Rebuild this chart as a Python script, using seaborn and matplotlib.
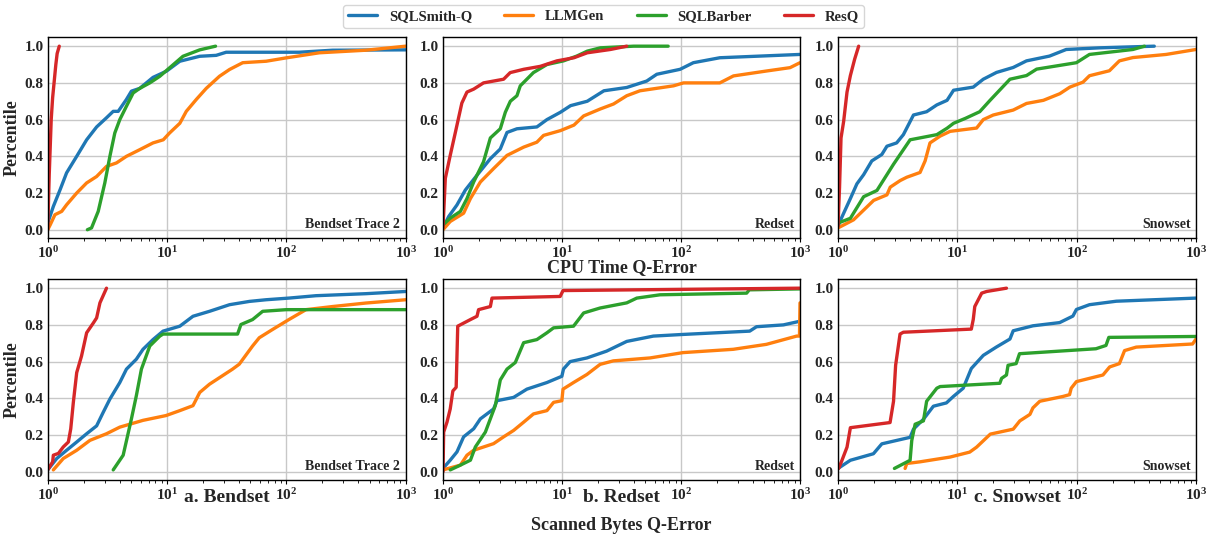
import numpy as np
import pandas as pd
import seaborn as sns
import matplotlib.pyplot as plt

methods = ['SQLSmith-Q', 'LLMGen', 'SQLBarber', 'ResQ']
datasets = ['Bendset Trace 2', 'Redset', 'Snowset']
panel_titles = ['a. Bendset', 'b. Redset', 'c. Snowset']

# ---- CPU time q-error, Bendset Trace 2 ----
cpu_bend_smith_x = [1, 1.115, 1.27, 1.44, 1.75, 2.12, 2.57, 3.11, 3.54, 3.9, 4.57, 5.03, 5.9, 7.63, 9.9, 12.8, 18.8, 25.8, 31.3, 128, 244, 1000]
cpu_bend_smith_y = [0.036, 0.127, 0.218, 0.31, 0.4, 0.49, 0.56, 0.61, 0.645, 0.645, 0.71, 0.755, 0.77, 0.83, 0.864, 0.918, 0.945, 0.95, 0.967, 0.967, 0.978, 0.98]
cpu_bend_llm_x = [1, 1.05, 1.15, 1.31, 1.44, 1.75, 2.12, 2.57, 3.11, 3.77, 4.57, 5.9, 7.63, 9.3, 10.5, 12.8, 14.5, 17.6, 21.3, 27.5, 33.4, 43.1, 67.7, 99, 189, 464, 1000]
cpu_bend_llm_y = [0, 0.027, 0.082, 0.1, 0.136, 0.2, 0.255, 0.29, 0.345, 0.364, 0.4, 0.436, 0.473, 0.49, 0.527, 0.58, 0.645, 0.71, 0.77, 0.836, 0.873, 0.91, 0.918, 0.936, 0.964, 0.978, 1.0]
cpu_bend_barber_x = [2.15, 2.33, 2.65, 3.01, 3.32, 3.65, 4.02, 4.57, 5.2, 5.9, 7.17, 8.7, 10.5, 13.6, 18.8, 25.5]
cpu_bend_barber_y = [0, 0.01, 0.1, 0.255, 0.4, 0.527, 0.6, 0.673, 0.745, 0.77, 0.8, 0.836, 0.882, 0.945, 0.98, 1.0]
cpu_bend_resq_x = [1.0, 1.03, 1.07, 1.1, 1.17, 1.2, 1.25]
cpu_bend_resq_y = [0, 0.3, 0.6, 0.72, 0.9, 0.96, 1.0]

# ---- CPU time q-error, Redset ----
cpu_red_smith_x = [1, 1.116, 1.31, 1.54, 1.93, 2.5, 3.03, 3.45, 4.18, 6.15, 7.47, 9.7, 11.8, 16.3, 22.5, 35, 51.5, 62.6, 98.3, 127, 212, 1000]
cpu_red_smith_y = [0.01, 0.072, 0.135, 0.216, 0.297, 0.387, 0.44, 0.53, 0.55, 0.56, 0.6, 0.64, 0.676, 0.7, 0.757, 0.775, 0.81, 0.847, 0.874, 0.91, 0.937, 0.955]
cpu_red_llm_x = [1, 1.15, 1.49, 1.7, 2.06, 2.66, 3.45, 4.76, 6.15, 7.0, 9.7, 12.6, 15.2, 21, 27.1, 35, 45.2, 86.6, 105, 212, 276, 526, 825, 1000]
cpu_red_llm_y = [0.0, 0.045, 0.09, 0.17, 0.26, 0.333, 0.405, 0.45, 0.477, 0.514, 0.54, 0.57, 0.62, 0.658, 0.685, 0.73, 0.757, 0.784, 0.8, 0.8, 0.838, 0.865, 0.883, 0.91]
cpu_red_barber_x = [1, 1.15, 1.4, 1.59, 1.81, 2.19, 2.5, 3.03, 3.34, 3.68, 4.18, 4.46, 5.75, 7.47, 10.3, 13.3, 16.3, 21, 40, 78]
cpu_red_barber_y = [0.027, 0.063, 0.1, 0.17, 0.26, 0.37, 0.5, 0.55, 0.64, 0.7, 0.73, 0.784, 0.856, 0.9, 0.92, 0.946, 0.973, 0.991, 1.0, 1.0]
cpu_red_resq_x = [1, 1.046, 1.15, 1.27, 1.44, 1.59, 1.81, 2.19, 3.23, 3.67, 4.76, 6.56, 9.06, 12.6, 16.3, 25.5, 35]
cpu_red_resq_y = [0.01, 0.28, 0.405, 0.53, 0.69, 0.75, 0.766, 0.8, 0.82, 0.856, 0.874, 0.89, 0.92, 0.937, 0.964, 0.982, 1.0]

# ---- CPU time q-error, Snowset ----
cpu_snow_smith_x = [1, 1.08, 1.27, 1.44, 1.64, 1.92, 2.33, 2.57, 3.1, 3.53, 4.29, 5.53, 6.73, 8.2, 9.3, 13.6, 16.5, 21.3, 29.4, 38, 59.2, 81.7, 156, 447]
cpu_snow_smith_y = [0.018, 0.07, 0.17, 0.25, 0.3, 0.375, 0.41, 0.455, 0.473, 0.518, 0.625, 0.643, 0.68, 0.705, 0.76, 0.777, 0.82, 0.857, 0.884, 0.92, 0.946, 0.982, 0.991, 1.0]
cpu_snow_llm_x = [1, 1.35, 1.64, 1.99, 2.57, 2.74, 3.32, 3.77, 4.87, 5.37, 5.9, 7.17, 8.7, 14.5, 16.5, 20, 29.4, 38, 52.6, 72.2, 87.7, 113, 128, 188, 228, 296, 562, 1000]
cpu_snow_llm_y = [0.01, 0.054, 0.107, 0.16, 0.19, 0.232, 0.268, 0.286, 0.312, 0.375, 0.473, 0.51, 0.536, 0.554, 0.6, 0.625, 0.652, 0.688, 0.705, 0.741, 0.777, 0.804, 0.839, 0.866, 0.92, 0.938, 0.955, 0.982]
cpu_snow_barber_x = [1, 1.27, 1.64, 2.12, 2.57, 2.92, 4.02, 6.73, 8.2, 9.3, 11.7, 15.4, 18.8, 27.6, 38, 46.2, 99.5, 128, 296, 370]
cpu_snow_barber_y = [0.036, 0.0625, 0.18, 0.214, 0.3, 0.357, 0.49, 0.518, 0.553, 0.58, 0.607, 0.643, 0.705, 0.82, 0.84, 0.875, 0.91, 0.955, 0.982, 1.0]
cpu_snow_resq_x = [1, 1.03, 1.06, 1.115, 1.19, 1.27, 1.38, 1.49]
cpu_snow_resq_y = [0.018, 0.23, 0.5, 0.59, 0.75, 0.84, 0.93, 1.0]

# ---- Scanned bytes q-error, Bendset Trace 2 ----
scan_bend_smith_x = [1, 1.19, 1.44, 1.75, 2.12, 2.57, 2.92, 3.32, 4.02, 4.57, 5.53, 6.29, 7.63, 9.26, 12.8, 16.5, 22.7, 33.4, 49.1, 67.6, 105, 177, 463, 1000]
scan_bend_smith_y = [0.01, 0.072, 0.117, 0.162, 0.207, 0.25, 0.324, 0.396, 0.486, 0.559, 0.613, 0.667, 0.72, 0.766, 0.793, 0.847, 0.874, 0.91, 0.928, 0.937, 0.946, 0.959, 0.97, 0.982]
scan_bend_llm_x = [1.115, 1.35, 1.75, 2.26, 3.11, 4.02, 6.29, 9.8, 12.8, 16.5, 18.8, 22.7, 35.4, 40.3, 52.1, 59.3, 76.6, 105, 146, 244, 463, 1000]
scan_bend_llm_y = [0.01, 0.072, 0.117, 0.171, 0.207, 0.243, 0.28, 0.306, 0.333, 0.36, 0.432, 0.477, 0.559, 0.586, 0.685, 0.73, 0.775, 0.829, 0.883, 0.9, 0.919, 0.937]
scan_bend_barber_x = [3.54, 4.29, 5.03, 5.53, 6.1, 7.17, 8.7, 9.26, 11.2, 39, 41.6, 52.1, 63.3, 100, 1000]
scan_bend_barber_y = [0.01, 0.09, 0.288, 0.414, 0.559, 0.685, 0.739, 0.75, 0.75, 0.75, 0.802, 0.829, 0.874, 0.883, 0.883]
scan_bend_resq_x = [1, 1.1, 1.115, 1.23, 1.35, 1.49, 1.56, 1.64, 1.75, 1.92, 2.12, 2.41, 2.57, 2.74, 3.11]
scan_bend_resq_y = [0.01, 0.054, 0.09, 0.1, 0.135, 0.162, 0.234, 0.378, 0.54, 0.63, 0.757, 0.81, 0.838, 0.92, 1.0]

# ---- Scanned bytes q-error, Redset ----
scan_red_smith_x = [1, 1.15, 1.31, 1.49, 1.81, 2.06, 2.66, 2.84, 3.92, 5.07, 7.47, 9.97, 10.3, 11.7, 16.2, 23.7, 35, 58.6, 104, 378, 431, 725, 1000]
scan_red_smith_y = [0.018, 0.063, 0.108, 0.19, 0.234, 0.288, 0.342, 0.387, 0.405, 0.45, 0.486, 0.52, 0.56, 0.6, 0.62, 0.657, 0.71, 0.739, 0.748, 0.766, 0.79, 0.8, 0.82]
scan_red_llm_x = [1, 1.4, 1.59, 1.81, 2.66, 3.23, 3.92, 4.76, 5.76, 7.47, 8.5, 9.97, 10.2, 12.5, 16.2, 20.9, 27, 55, 104, 275, 522, 937, 990, 1000]
scan_red_llm_y = [0.01, 0.036, 0.09, 0.117, 0.153, 0.19, 0.225, 0.27, 0.315, 0.333, 0.378, 0.387, 0.45, 0.486, 0.53, 0.585, 0.604, 0.62, 0.649, 0.667, 0.694, 0.739, 0.739, 0.92]
scan_red_barber_x = [1.15, 1.4, 1.7, 1.87, 2.27, 2.75, 3.03, 3.45, 4.05, 4.76, 6.15, 7.47, 8.5, 12.5, 15.2, 20.9, 35, 42.5, 66.7, 356, 375, 1000]
scan_red_barber_y = [0.01, 0.036, 0.063, 0.135, 0.216, 0.36, 0.5, 0.559, 0.595, 0.703, 0.72, 0.757, 0.784, 0.793, 0.865, 0.892, 0.92, 0.946, 0.964, 0.973, 0.991, 0.996]
scan_red_resq_x = [1, 1.013, 1.08, 1.15, 1.21, 1.29, 1.33, 1.7, 1.93, 1.99, 2.5, 2.58, 9.65, 10.2, 1000]
scan_red_resq_y = [0.0, 0.216, 0.27, 0.342, 0.44, 0.46, 0.793, 0.829, 0.847, 0.883, 0.9, 0.946, 0.955, 0.987, 1.0]

# ---- Scanned bytes q-error, Snowset ----
scan_snow_smith_x = [1, 1.27, 1.98, 2.33, 4.02, 4.29, 5.2, 6.3, 8.1, 9.26, 11.2, 13.1, 16.5, 21.2, 27.6, 29.4, 43, 72, 93, 99.5, 128, 215, 1000]
scan_snow_smith_y = [0.018, 0.0625, 0.098, 0.152, 0.1875, 0.232, 0.286, 0.357, 0.375, 0.41, 0.455, 0.5625, 0.634, 0.679, 0.723, 0.768, 0.795, 0.8125, 0.848, 0.884, 0.91, 0.929, 0.946]
scan_snow_llm_x = [3.65, 3.77, 4.87, 8.7, 12.7, 14.5, 18.9, 29.4, 33.4, 40.6, 43, 49.1, 76.6, 87.2, 90, 99.5, 166, 189, 228, 252, 316, 936, 1000]
scan_snow_llm_y = [0.018, 0.045, 0.054, 0.08, 0.107, 0.134, 0.205, 0.232, 0.277, 0.3125, 0.348, 0.384, 0.41, 0.42, 0.455, 0.491, 0.527, 0.571, 0.589, 0.66, 0.679, 0.696, 0.723]
scan_snow_barber_x = [2.97, 4.02, 4.15, 4.43, 5.2, 5.53, 6.73, 7.17, 22.7, 23.5, 25.8, 26.6, 31.1, 33.2, 145, 176, 186, 1000]
scan_snow_barber_y = [0.018, 0.0625, 0.17, 0.259, 0.277, 0.384, 0.455, 0.464, 0.482, 0.509, 0.527, 0.58, 0.589, 0.643, 0.67, 0.688, 0.732, 0.737]
scan_snow_resq_x = [1.013, 1.08, 1.19, 1.27, 2.73, 2.83, 2.92, 3.04, 3.31, 3.53, 13.1, 13.6, 14.0, 16.0, 17.6, 25.8]
scan_snow_resq_y = [0.018, 0.0625, 0.134, 0.24, 0.268, 0.33, 0.384, 0.58, 0.75, 0.76, 0.777, 0.83, 0.9, 0.973, 0.982, 1.0]

series = {
    ('cpu', 0): [(cpu_bend_smith_x, cpu_bend_smith_y), (cpu_bend_llm_x, cpu_bend_llm_y),
                 (cpu_bend_barber_x, cpu_bend_barber_y), (cpu_bend_resq_x, cpu_bend_resq_y)],
    ('cpu', 1): [(cpu_red_smith_x, cpu_red_smith_y), (cpu_red_llm_x, cpu_red_llm_y),
                 (cpu_red_barber_x, cpu_red_barber_y), (cpu_red_resq_x, cpu_red_resq_y)],
    ('cpu', 2): [(cpu_snow_smith_x, cpu_snow_smith_y), (cpu_snow_llm_x, cpu_snow_llm_y),
                 (cpu_snow_barber_x, cpu_snow_barber_y), (cpu_snow_resq_x, cpu_snow_resq_y)],
    ('scan', 0): [(scan_bend_smith_x, scan_bend_smith_y), (scan_bend_llm_x, scan_bend_llm_y),
                  (scan_bend_barber_x, scan_bend_barber_y), (scan_bend_resq_x, scan_bend_resq_y)],
    ('scan', 1): [(scan_red_smith_x, scan_red_smith_y), (scan_red_llm_x, scan_red_llm_y),
                  (scan_red_barber_x, scan_red_barber_y), (scan_red_resq_x, scan_red_resq_y)],
    ('scan', 2): [(scan_snow_smith_x, scan_snow_smith_y), (scan_snow_llm_x, scan_snow_llm_y),
                  (scan_snow_barber_x, scan_snow_barber_y), (scan_snow_resq_x, scan_snow_resq_y)],
}

sns.set_style('whitegrid', {'axes.edgecolor': 'black', 'grid.color': '#c8c8c8'})
plt.rcParams['font.family'] = ['Liberation Serif', 'DejaVu Serif']
plt.rcParams['font.weight'] = 'bold'
plt.rcParams['axes.labelweight'] = 'bold'
plt.rcParams['mathtext.fontset'] = 'custom'
plt.rcParams['mathtext.rm'] = 'Liberation Serif:bold'
plt.rcParams['mathtext.it'] = 'Liberation Serif:bold:italic'
plt.rcParams['mathtext.bf'] = 'Liberation Serif:bold'

palette = dict(zip(methods, sns.color_palette('tab10', 4)))

fig, axes = plt.subplots(2, 3, figsize=(12.07, 5.38), dpi=100)
lefts = [47.7, 443, 838]
widths = [358, 357, 358]
bottoms = [238, 480]
W, H = 1207, 538

for r, metric in enumerate(['cpu', 'scan']):
    for c in range(3):
        ax = axes[r, c]
        ax.set_position([lefts[c] / W, 1 - bottoms[r] / H, widths[c] / W, 201 / H])
        rows = []
        for m, (xs, ys) in zip(methods, series[(metric, c)]):
            rows.append(pd.DataFrame({'qerr': xs, 'pct': ys, 'method': m}))
        df = pd.concat(rows, ignore_index=True)
        sns.lineplot(data=df, x='qerr', y='pct', hue='method', hue_order=methods,
                     palette=palette, estimator=None, sort=False, linewidth=2.4,
                     ax=ax, legend=(r == 0 and c == 0))
        ax.set_xscale('log')
        ax.set_xlim(1, 1000)
        ax.set_ylim(-0.045, 1.05)
        ax.set_yticks([0, 0.2, 0.4, 0.6, 0.8, 1.0])
        ax.set_yticklabels(['0.0', '0.2', '0.4', '0.6', '0.8', '1.0'])
        ax.tick_params(axis='y', labelsize=11, pad=3, length=0)
        ax.tick_params(axis='x', which='major', labelsize=11, pad=2, length=3,
                       bottom=True, color='black', width=0.8)
        ax.tick_params(axis='x', which='minor', length=1.8, bottom=True, color='black', width=0.6)
        for lab in ax.get_xticklabels() + ax.get_yticklabels():
            lab.set_fontweight('bold')
        ax.grid(True, which='major', color='#c8c8c8', linewidth=1)
        ax.grid(False, which='minor')
        for s in ax.spines.values():
            s.set_color('black')
            s.set_linewidth(1)
        ax.set_xlabel('')
        ax.set_ylabel('Percentile' if c == 0 else '', fontsize=13, fontweight='bold', labelpad=3)
        ax.text(0.985, 0.035, datasets[c], transform=ax.transAxes, ha='right', va='bottom',
                fontsize=10, fontweight='bold')

handles, labels = axes[0, 0].get_legend_handles_labels()
axes[0, 0].get_legend().remove()
fig.legend(handles, labels, loc='upper center', bbox_to_anchor=(0.5, 1.005), ncol=4,
           frameon=True, prop={'size': 10.5, 'weight': 'bold'}, handlelength=2.0,
           columnspacing=2.2, borderpad=0.35, edgecolor='#cccccc', fancybox=True)

fig.text(621.5 / W, 1 - 268 / H, 'CPU Time Q-Error', ha='center', va='center', fontsize=13, fontweight='bold')
for c in range(3):
    cx = (lefts[c] + widths[c] / 2) / W
    fig.text(cx, 1 - 498 / H, panel_titles[c], ha='center', va='center', fontsize=14, fontweight='bold')
fig.text(621.5 / W, 1 - 525 / H, 'Scanned Bytes Q-Error', ha='center', va='center', fontsize=13, fontweight='bold')

fig.savefig('out.png', dpi=100)
